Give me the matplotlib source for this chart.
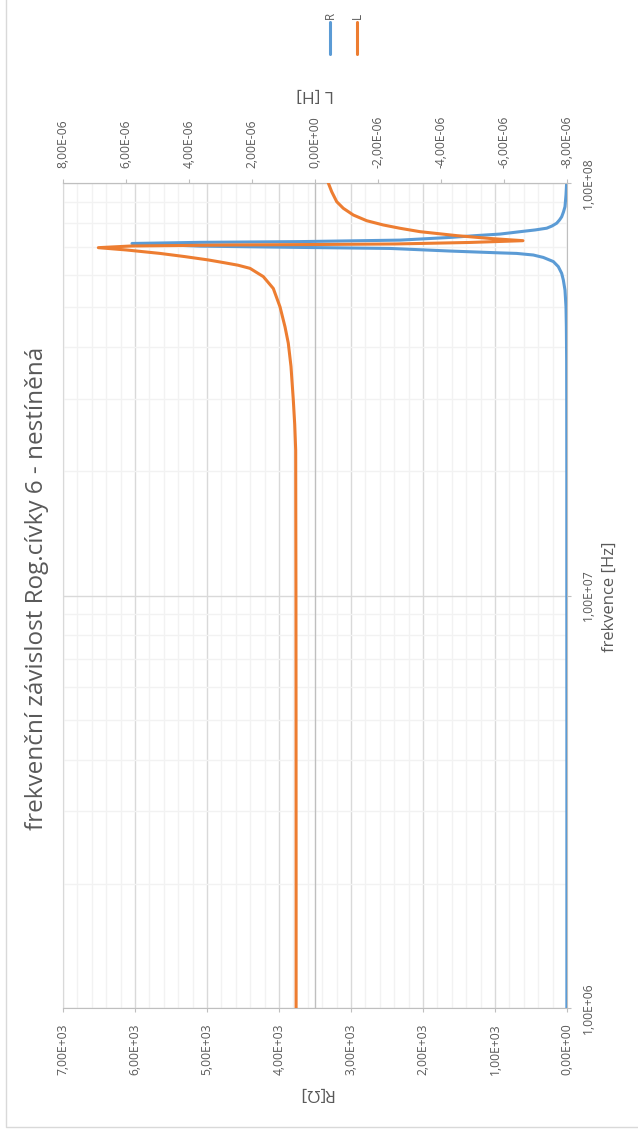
import numpy as np
import matplotlib
matplotlib.use("Agg")
import matplotlib.pyplot as plt
from matplotlib.ticker import FixedLocator, MultipleLocator, LogLocator, FuncFormatter, NullFormatter
from matplotlib.lines import Line2D
from matplotlib.transforms import blended_transform_factory

plt.rcParams['font.family'] = ['Open Sans', 'DejaVu Sans']

# ---- texts ----
title = "frekvenční závislost Rog.cívky 6 - nestíněná"
freq_label = "frekvence [Hz]"
r_label = "R[Ω]"
l_label = "L [H]"
series_names = ["R", "L"]

# ---- measured data ----
freq_R = [1.0e6, 2.0e6, 5.0e6, 1.0e7, 2.0e7, 3.0e7, 3.72e7, 4.5e7, 5.01e7, 5.5e7,
          5.82e7, 6.04e7, 6.27e7, 6.45e7, 6.6e7, 6.69e7, 6.75e7, 6.77e7, 6.84e7,
          6.94e7, 6.98e7, 7.03e7, 7.135e7, 7.18e7, 7.21e7, 7.27e7, 7.38e7, 7.461e7,
          7.52e7, 7.574e7, 7.62e7, 7.694e7, 7.77e7, 7.867e7, 7.99e7, 8.135e7, 8.28e7,
          8.507e7, 8.76e7, 9.352e7, 1.0e8]
R_ohm = [2, 2, 2, 3, 3, 4, 5, 9, 14, 28,
         51, 74, 121, 190, 329, 468, 699, 930, 1625,
         2458, 3708, 5097, 6042, 5097, 3708, 2319, 1625, 1236,
         930, 778, 653, 444, 282, 208, 143, 104, 74,
         49, 28, 14, 5]

freq_L = [1.0e6, 2.0e6, 5.0e6, 1.0e7, 1.6e7, 2.25e7, 2.6e7, 2.98e7, 3.59e7, 4.09e7, 4.48e7,
          5.01e7, 5.55e7, 5.93e7, 6.21e7, 6.32e7, 6.41e7, 6.51e7, 6.63e7, 6.75e7,
          6.88e7, 6.97e7, 7.035e7, 7.075e7, 7.095e7, 7.115e7, 7.176e7, 7.247e7,
          7.337e7, 7.453e7, 7.621e7, 7.767e7, 7.911e7, 8.102e7, 8.364e7, 8.684e7,
          9.01e7, 9.526e7, 1.0e8]
L_henry = [6.0e-7, 6.0e-7, 6.02e-7, 6.05e-7, 6.1e-7, 6.13e-7, 6.44e-7, 6.89e-7, 7.62e-7, 8.48e-7, 9.52e-7,
           1.111e-6, 1.324e-6, 1.641e-6, 2.063e-6, 2.444e-6, 2.889e-6, 3.397e-6, 4.127e-6, 4.921e-6,
           5.978e-6, 6.879e-6, 5.84e-6, 2.70e-6, -1.6e-7, -2.54e-6, -4.92e-6, -6.603e-6,
           -5.556e-6, -4.508e-6, -3.333e-6, -2.698e-6, -2.168e-6, -1.641e-6, -1.216e-6, -8.98e-7,
           -6.89e-7, -5.30e-7, -4.22e-7]

# ---- axis scales ----
freq_ticks = [1e6, 1e7, 1e8]
r_ticks = [0, 1000, 2000, 3000, 4000, 5000, 6000, 7000]
l_ticks = [-8e-6, -6e-6, -4e-6, -2e-6, 0.0, 2e-6, 4e-6, 6e-6, 8e-6]

BLUE = "#5B9BD5"
ORANGE = "#ED7D31"
TXT = "#595959"
GRID_MAJ = "#d9d9d9"
GRID_MIN = "#f2f2f2"
AXLINE = "#bfbfbf"


def excel_sci(v, pos=None):
    if v == 0:
        return "0,00E+00"
    exp = int(np.floor(np.log10(abs(v)) + 1e-9))
    mant = v / 10 ** exp
    sign = "+" if exp >= 0 else "-"
    return f"{mant:.2f}".replace(".", ",") + f"E{sign}{abs(exp):02d}"


W, H = 638, 1133
fig = plt.figure(figsize=(W / 100, H / 100), dpi=100)
fig.patch.set_facecolor("white")


def fx(px):
    return px / W


def fy(py):
    return 1 - py / H


left, right, top, bottom = 63, 567, 183, 1008
ax = fig.add_axes([fx(left), fy(bottom), (right - left) / W, (bottom - top) / H])
ax.set_yscale("log")
ax.set_xlim(max(r_ticks), min(r_ticks))
ax.set_ylim(freq_ticks[0], freq_ticks[-1])

ax2 = ax.twiny()
ax2.set_xlim(max(l_ticks), min(l_ticks))

# grid
ax.xaxis.set_major_locator(FixedLocator(r_ticks))
ax.xaxis.set_minor_locator(MultipleLocator(200))
ax.yaxis.set_major_locator(FixedLocator(freq_ticks))
ax.yaxis.set_minor_locator(LogLocator(base=10, subs=list(range(2, 10))))
ax.yaxis.set_minor_formatter(NullFormatter())
ax.xaxis.set_major_formatter(FuncFormatter(excel_sci))
ax.yaxis.set_major_formatter(FuncFormatter(excel_sci))
ax.set_axisbelow(True)
ax.grid(which="minor", color=GRID_MIN, lw=1.0)
ax.grid(which="major", color=GRID_MAJ, lw=1.0)

# secondary zero line
ax.plot([0, 0], [0, 1], transform=blended_transform_factory(ax2.transData, ax.transAxes),
        color=AXLINE, lw=1.0, zorder=1.5)

# spines
for s in ["left", "top"]:
    ax.spines[s].set_color(GRID_MAJ)
for s in ["bottom", "right"]:
    ax.spines[s].set_color(AXLINE)
for s in ["left", "bottom", "right"]:
    ax2.spines[s].set_visible(False)
ax2.spines["top"].set_color(AXLINE)

# ticks
TICK_FS = 8.7
ax.yaxis.tick_right()
ax.tick_params(axis="x", which="major", direction="out", length=3, color=AXLINE,
               labelsize=TICK_FS, labelcolor=TXT, labelrotation=90, pad=8)
ax.tick_params(axis="x", which="minor", length=0)
ax.tick_params(axis="y", which="major", direction="out", length=3, color=AXLINE,
               labelsize=TICK_FS, labelcolor=TXT, labelrotation=90, pad=8)
ax.tick_params(axis="y", which="minor", length=0)
for lbl in ax.get_yticklabels():
    lbl.set_va("center")

ax2.xaxis.set_major_locator(FixedLocator(l_ticks))
ax2.xaxis.set_major_formatter(FuncFormatter(excel_sci))
ax2.tick_params(axis="x", which="major", direction="out", length=3, color=AXLINE,
                labelsize=TICK_FS, labelcolor=TXT, labelrotation=90, pad=8)

# series
ax.plot(R_ohm, freq_R, color=BLUE, lw=2.2, solid_joinstyle="round", solid_capstyle="round", zorder=3)
ax2.plot(L_henry, freq_L, color=ORANGE, lw=2.2, solid_joinstyle="round", solid_capstyle="round", zorder=3)

# titles
fig.text(fx(37), fy(588), title, rotation=90, ha="center", va="center", fontsize=17.5, color=TXT)
fig.text(fx(610), fy(597), freq_label, rotation=90, ha="center", va="center", fontsize=12, color=TXT)
fig.text(fx(315), fy(1093), r_label, rotation=180, ha="center", va="center", fontsize=12.5, color=TXT)
fig.text(fx(315), fy(94), l_label, rotation=180, ha="center", va="center", fontsize=12.5, color=TXT)

# legend
for name, col, xp in zip(series_names, [BLUE, ORANGE], [330, 357]):
    fig.add_artist(Line2D([fx(xp), fx(xp)], [fy(22), fy(54)], color=col, lw=2.2,
                          solid_capstyle="round", transform=fig.transFigure))
    fig.text(fx(xp), fy(15.5), name, rotation=90, ha="center", va="center", fontsize=8.5, color=TXT)

# chart frame
fig.add_artist(Line2D([fx(6), fx(6), fx(W + 2)], [fy(-2), fy(1127), fy(1127)], color=GRID_MAJ,
                      lw=1.0, transform=fig.transFigure))

fig.savefig("out.png", dpi=100)
